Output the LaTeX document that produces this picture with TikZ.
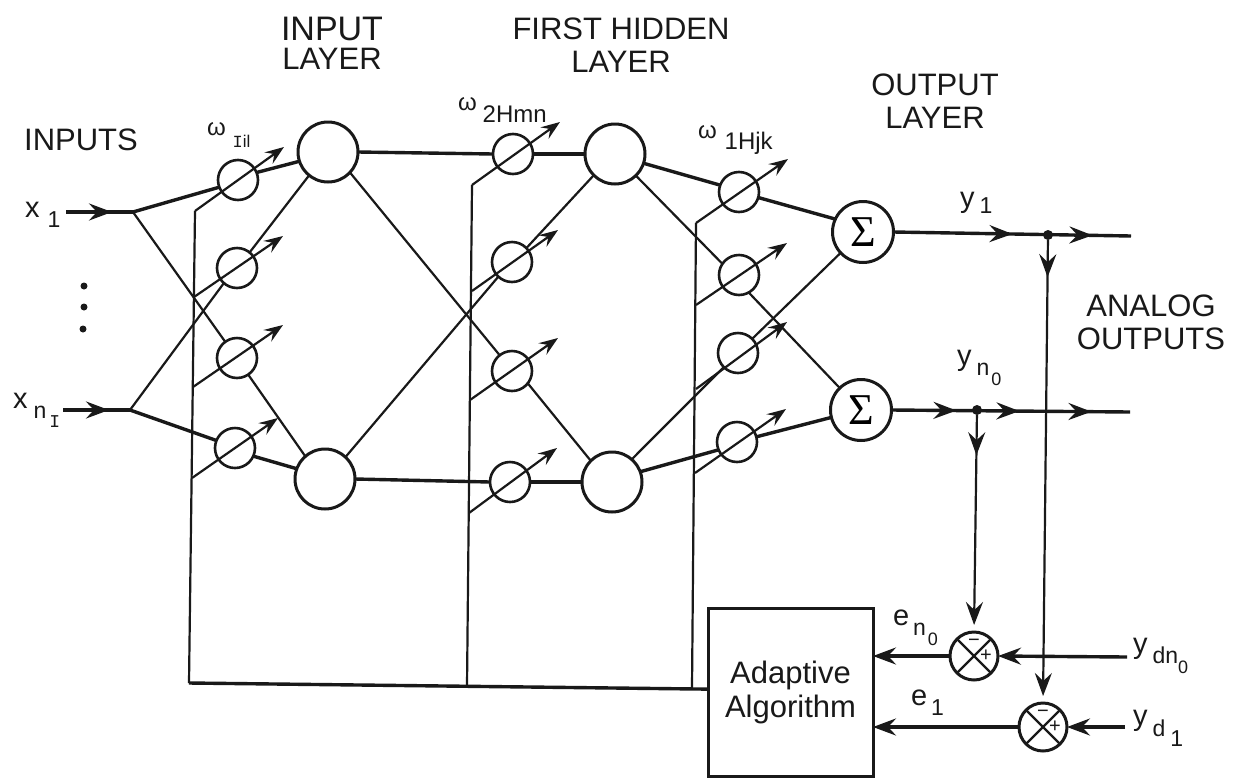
\documentclass[tikz,border=0pt]{standalone}
\usepackage{fontspec}
\setmainfont{Liberation Sans}
\newfontfamily\monof{Liberation Mono}
\newfontfamily\sigf{Liberation Serif}
\usetikzlibrary{arrows.meta,decorations.markings}
\newcommand\mainf{\fontsize{29}{29}\selectfont}
\newcommand\subf{\fontsize{23}{23}\selectfont}
\newcommand\ssubf{\fontsize{18}{18}\selectfont}
\newcommand\omf{\fontsize{24}{24}\selectfont}
\newcommand\dn[2]{\raisebox{-#1pt}{#2}}
\tikzset{
  tipbig/.tip={Stealth[length=23pt,width=17pt,inset=8pt]},
  tipsmall/.tip={Stealth[length=19pt,width=14pt,inset=7pt]},
  arrowat/.style={postaction={decorate,decoration={markings,mark=at position #1 with {\arrow{tipbig}}}}},
  thin line/.style={line width=2.2pt,black!90},
  thick line/.style={line width=3.4pt,black!90},
  weight/.style={circle,draw=black!90,line width=2.6pt,minimum size=40pt,inner sep=0pt,outer sep=0pt},
  neuron/.style={circle,draw=black!90,line width=3pt,minimum size=60pt,inner sep=0pt,outer sep=0pt},
  summer/.style={circle,draw=black!90,line width=3pt,minimum size=61pt,inner sep=0pt,outer sep=0pt,font={\sigf\fontsize{44}{44}\selectfont}},
  compare/.style={circle,draw=black!90,line width=3pt,minimum size=48pt,inner sep=0pt,outer sep=0pt},
  adj/.style={thin line,-{tipsmall}},
  lab/.style={anchor=base west,inner sep=0pt,outer sep=0pt,text=black!90},
  head/.style={align=center,inner sep=0pt,outer sep=0pt,text=black!90,font={\fontsize{31}{33}\selectfont}},
  dotmark/.style={circle,fill=black!90,inner sep=0pt,minimum size=#1},
  sign/.style={inner sep=0pt,outer sep=0pt,text=black!90,font={\fontsize{20}{20}\selectfont}}
}
\begin{document}
\begin{tikzpicture}[x=1pt,y=-1pt]
\useasboundingbox (0,0) rectangle (1242,777);
\fill[white] (0,0) rectangle (1242,777);

% headings
\node[head,font={\fontsize{31}{29}\selectfont}] (hInput) at (332,43) {{\fontsize{34}{29}\selectfont INPUT}\\LAYER};
\node[head] (hHidden) at (621,45) {FIRST HIDDEN\\LAYER};
\node[head] (hOutput) at (935,101) {OUTPUT\\LAYER};
\node[head] (hInputs) at (81,140) {INPUTS};
\node[head] (hAnalog) at (1151,322) {ANALOG\\OUTPUTS};

% nodes
\node[weight] (w11) at (238,180) {};
\node[weight] (w12) at (237,268) {};
\node[weight] (w13) at (237,358) {};
\node[weight] (w14) at (235,448) {};
\node[weight] (w21) at (513,154) {};
\node[weight] (w22) at (512,262) {};
\node[weight] (w23) at (512,371) {};
\node[weight] (w24) at (510,482) {};
\node[weight] (w31) at (739,192) {};
\node[weight] (w32) at (739,275) {};
\node[weight] (w33) at (738,353) {};
\node[weight] (w34) at (737,442) {};
\node[neuron] (inp1) at (328,152) {};
\node[neuron] (inp2) at (325,479) {};
\node[neuron] (hid1) at (615,154) {};
\node[neuron] (hid2) at (612,482) {};
\node[summer] (sum1) at (863,232) {Σ};
\node[summer] (sum2) at (861,410) {Σ};
\node[compare] (cmp1) at (974,656) {};
\node[compare] (cmp2) at (1043,727) {};
\node[draw=black!90,line width=3pt,minimum width=165pt,minimum height=168pt,inner sep=0pt,outer sep=0pt,align=center,font={\fontsize{31}{34}\selectfont},text=black!90] (algo) at (790.5,692) {Adaptive\\Algorithm};

\node[dotmark=7pt] (d1) at (84,286) {};
\node[dotmark=7pt] (d2) at (84,307) {};
\node[dotmark=7pt] (d3) at (83,329) {};
\node[dotmark=10pt] (o1) at (1048,235) {};
\node[dotmark=10pt] (o2) at (977,410) {};

% free ends
\coordinate (x1s) at (66,212);
\coordinate (j1) at (133,212);
\coordinate (x2s) at (63,410);
\coordinate (j2) at (130,410);
\coordinate (b1t) at (195,211);
\coordinate (b1b) at (189,683);
\coordinate (b2t) at (472,185);
\coordinate (b2b) at (467,686);
\coordinate (b3t) at (696,223);
\coordinate (b3b) at (692,688);
\coordinate (b12) at (194,297);
\coordinate (b13) at (193,387);
\coordinate (b14) at (192,478);
\coordinate (b22) at (472,291);
\coordinate (b23) at (470,400);
\coordinate (b24) at (469,513);
\coordinate (b32) at (696,305);
\coordinate (b33) at (696,389);
\coordinate (b34) at (695,473);
\coordinate (t11) at (284,147);
\coordinate (t12) at (283,236);
\coordinate (t13) at (283,325);
\coordinate (t14) at (278,418);
\coordinate (t21) at (560,122);
\coordinate (t22) at (558,230);
\coordinate (t23) at (558,338);
\coordinate (t24) at (557,448);
\coordinate (t31) at (788,159);
\coordinate (t32) at (787,243);
\coordinate (t33) at (787,322);
\coordinate (t34) at (786,409);
\coordinate (out1) at (1131,236);
\coordinate (out2) at (1130,412);
\coordinate (yd0) at (1127,657);
\coordinate (yd1) at (1125,727);

% adaptation buses
\draw[thin line] (b1t) -- (b1b);
\draw[thin line] (b2t) -- (b2b);
\draw[thin line] (b3t) -- (b3b);
\draw[thick line] (b1b) -- (algo.178);

% adjustable weight arrows
\draw[adj] (b1t) -- (t11);
\draw[adj] (b12) -- (t12);
\draw[adj] (b13) -- (t13);
\draw[adj] (b14) -- (t14);
\draw[adj] (b2t) -- (t21);
\draw[adj] (b22) -- (t22);
\draw[adj] (b23) -- (t23);
\draw[adj] (b24) -- (t24);
\draw[adj] (b3t) -- (t31);
\draw[adj] (b32) -- (t32);
\draw[adj] (b33) -- (t33);
\draw[adj] (b34) -- (t34);

% inputs
\draw[thick line,arrowat=46pt] (x1s) -- (j1);
\draw[thick line,arrowat=46pt] (x2s) -- (j2);
\draw[thick line] (j1) -- (w11.201);
\draw[thin line] (j1) -- (w13.126);
\draw[thin line] (j2) -- (w12.229);
\draw[thick line] (j2) -- (w14.158);

% weights to input layer
\draw[thick line] (w11.22) -- (inp1.198);
\draw[thin line] (w12.51) -- (inp1.231);
\draw[thin line] (w13.304) -- (inp2.131);
\draw[thick line] (w14.336) -- (inp2.160);

% input layer to hidden weights
\draw[thick line] (inp1.0) -- (w21.180);
\draw[thin line] (inp1.317) -- (w23.128);
\draw[thin line] (inp2.47) -- (w22.227);
\draw[thick line] (inp2.0) -- (w24.180);

% hidden weights to hidden layer
\draw[thick line] (w21.0) -- (hid1.180);
\draw[thin line] (w22.44) -- (hid1.225);
\draw[thin line] (w23.322) -- (hid2.135);
\draw[thick line] (w24.0) -- (hid2.180);

% hidden layer to output weights
\draw[thick line] (hid1.342) -- (w31.160);
\draw[thin line] (hid1.314) -- (w32.146);
\draw[thin line] (hid2.49) -- (w33.225);
\draw[thick line] (hid2.20) -- (w34.203);

% output weights to summers
\draw[thick line] (w31.344) -- (sum1.155);
\draw[thin line] (w32.299) -- (sum2.134);
\draw[thin line] (w33.45) -- (sum1.223);
\draw[thick line] (w34.15) -- (sum2.194);

% outputs
\draw[thick line,arrowat=119pt,arrowat=199pt] (sum1.0) -- (out1);
\draw[thick line,arrowat=65pt,arrowat=128pt,arrowat=200pt] (sum2.0) -- (out2);
\draw[thin line,arrowat=37pt,-{tipbig},shorten >=7pt] (o1) -- (cmp2.90);
\draw[thin line,arrowat=40pt,-{tipbig},shorten >=7pt] (o2) -- (cmp1.90);

% comparators
\draw[line width=2.2pt,black!90] (cmp1.45) -- (cmp1.225) (cmp1.135) -- (cmp1.315);
\draw[line width=2.2pt,black!90] (cmp2.45) -- (cmp2.225) (cmp2.135) -- (cmp2.315);
\node[sign] (m1) at (974,643) {−};
\node[sign] (p1) at (986,656) {+};
\node[sign] (m2) at (1043,714) {−};
\node[sign] (p2) at (1055,727) {+};
\draw[thick line,-{tipbig}] (cmp1.180) -- (cmp1.180 -| algo.east);
\draw[thick line,-{tipbig}] (cmp2.180) -- (cmp2.180 -| algo.east);
\draw[thick line,-{tipbig}] (yd0) -- (cmp1.0);
\draw[thick line,-{tipbig}] (yd1) -- (cmp2.0);

% labels
\node[lab] (lx1) at (25,217) {\mainf x\kern8pt\dn{10}{\subf 1}};
\node[lab] (lx2) at (13,408) {\mainf x\kern6pt\dn{10}{\subf n\kern3pt\dn{9}{\monof\ssubf I}}};
\node[lab] (lw1) at (207,135) {\omf ω\kern7pt\dn{12}{\fontsize{17}{17}\selectfont{\monof I}il}};
\node[lab] (lw2) at (458,110) {\omf ω\kern6pt\dn{12}{2Hmn}};
\node[lab] (lw3) at (698,138) {\omf ω\kern8pt\dn{11}{1Hjk}};
\node[lab] (ly1) at (960,207) {\mainf y\kern5pt\dn{6}{\subf 1}};
\node[lab] (ly2) at (957,365) {\mainf y\kern5pt\dn{10}{\subf n\kern2pt\dn{10}{\ssubf 0}}};
\node[lab] (le2) at (893,625) {\mainf e\kern4pt\dn{10}{\subf n\kern2pt\dn{10}{\ssubf 0}}};
\node[lab] (le1) at (911,705) {\mainf e\kern4pt\dn{10}{\subf 1}};
\node[lab] (lyd0) at (1133,653) {\mainf y\kern5pt\dn{10}{\subf dn\dn{10}{\ssubf 0}}};
\node[lab] (lyd1) at (1133,725) {\mainf y\kern5pt\dn{11}{\subf d\kern5pt\dn{10}{\subf 1}}};
\end{tikzpicture}
\end{document}
